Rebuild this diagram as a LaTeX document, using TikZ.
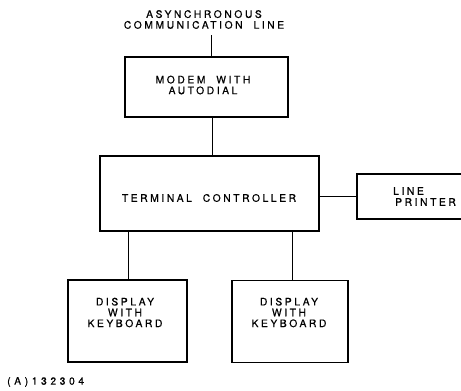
\documentclass[tikz,border=0pt]{standalone}
\usepackage{fontspec}
\setmainfont{TeX Gyre Heros}[LetterSpace=25,FakeBold=0.6,WordSpace=2]
\begin{document}
\begin{tikzpicture}[x=1pt,y=-1pt,
  box/.style={draw,line width=1.5pt,minimum width=0pt,inner sep=0pt,rectangle},
  lbl/.style={inner sep=0pt,align=center,font=\fontsize{10.3}{10.8}\selectfont},
  wire/.style={line width=0.9pt}]
\useasboundingbox (0,0) rectangle (461,391);
\clip (0,0) rectangle (461,391);
% boxes
\node[box,minimum width=163pt,minimum height=60pt] (modem) at (206.5,87) {};
\node[box,minimum width=219pt,minimum height=75pt] (ctl) at (209.5,193.5) {};
\node[box,minimum width=200pt,minimum height=45pt] (prn) at (457,196.5) {};
\node[box,minimum width=119pt,minimum height=82pt] (d1) at (127.5,321) {};
\node[box,minimum width=116pt,minimum height=82pt] (d2) at (290,321.5) {};
% texts
\node[lbl] (title) at (204,19.5) {ASYNCHRONOUS\\COMMUNICATION LINE};
\node[lbl] (tmodem) at (203,85) {MODEM WITH\\AUTODIAL};
\node[lbl] (tctl) at (209,198) {TERMINAL CONTROLLER};
\node[lbl,anchor=west] (tprn1) at (393,191) {LINE};
\node[lbl,anchor=west] (tprn2) at (395,202) {PRINTER};
\node[lbl] (td1) at (125,312.5) {DISPLAY\\WITH\\KEYBOARD};
\node[lbl] (td2) at (289,312.5) {DISPLAY\\WITH\\KEYBOARD};
\node[lbl,anchor=west,font=\fontsize{10.3}{10.8}\selectfont\addfontfeature{LetterSpace=35}] (fig) at (7,382) {(A)132304};
% connectors
\coordinate (c1) at (211,35);
\draw[wire] (c1) -- (c1 |- modem.north);
\draw[wire] (modem.south -| 212,0) -- (ctl.north -| 212,0);
\draw[wire] (ctl.east |- 0,196) -- (prn.west |- 0,196);
\draw[wire] (ctl.south -| 128,0) -- (d1.north -| 128,0);
\draw[wire] (ctl.south -| 292,0) -- (d2.north -| 292,0);
\end{tikzpicture}
\end{document}
